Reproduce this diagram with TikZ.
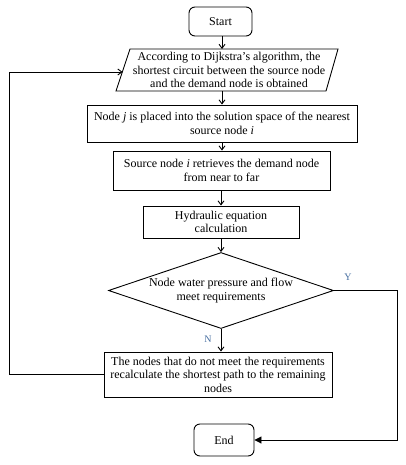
\documentclass[tikz,border=0pt]{standalone}
\usepackage{fontspec}
\setmainfont{Liberation Serif}
\usetikzlibrary{arrows.meta,shapes.geometric}
\definecolor{lab}{RGB}{70,110,160}
\begin{document}
\begin{tikzpicture}[x=1pt,y=-1pt,
  txt/.style={font=\fontsize{12}{13.5}\selectfont,align=center},
  box/.style={txt,draw,line width=0.9pt,inner sep=0pt},
  term/.style={box,rounded corners=6pt},
  arr/.style={line width=0.9pt,-{Straight Barb[length=4pt,width=6pt]}},
  arrf/.style={line width=0.9pt,-{Triangle[length=7pt,width=7pt]}},
  yn/.style={font=\fontsize{10}{11}\selectfont,text=lab}
]
\useasboundingbox (0,0) rectangle (406,465);
% Start
\node[term,minimum width=63,minimum height=29] (start) at (220.5,21.5) {Start};
% parallelogram
\coordinate (pbl) at (116,91);
\coordinate (pbr) at (326,91);
\coordinate (ptr) at (338,49);
\coordinate (ptl) at (130,49);
\draw[line width=0.9pt] (pbl) -- (pbr) -- (ptr) -- (ptl) -- cycle;
\node[txt] (para) at (229,70) {According to Dijkstra's algorithm, the\\shortest circuit between the source node\\and the demand node is obtained};
\coordinate (ptop) at (222,49);
\coordinate (pbot) at (222,91);
\coordinate (pleft) at (122.5,72);
% boxes
\node[box,minimum width=270,minimum height=37] (b2) at (222,123.5) {Node \textit{j} is placed into the solution space of the nearest\\source node \textit{i}};
\node[box,minimum width=217,minimum height=39] (b3) at (221.5,170.5) {Source node \textit{i} retrieves the demand node\\from near to far};
\node[box,minimum width=156,minimum height=32] (b4) at (221,222) {Hydraulic equation\\calculation};
\node[txt,draw,line width=0.9pt,shape=diamond,inner sep=0pt,aspect=3,minimum width=225,minimum height=76] (dec) at (221,290.5) {Node water pressure and flow\\meet requirements};
\node[box,minimum width=228,minimum height=45] (b5) at (218,374.5) {The nodes that do not meet the requirements\\recalculate the shortest path to the remaining\\nodes};
\node[term,minimum width=60,minimum height=32] (end) at (224,440) {End};
% connectors
\draw[arr] (start.south -| ptop) -- (ptop);
\draw[arr] (pbot) -- (pbot |- b2.north);
\draw[arr] (b2.south -| pbot) -- (b3.north -| pbot);
\draw[arr] (b3.south -| b4.north) -- (b4.north);
\draw[arr] (b4.south) -- (dec.north -| b4.south);
\draw[arr] (dec.south) -- (dec.south |- b5.north);
\draw[arr] (b5.west) -- (9,374.5) -- (9,72) -- (pleft);
\draw[arrf] (dec.east) -- (397,290.5) -- (397,440) -- (end.east);
\node[yn] (ylab) at (348,277) {Y};
\node[yn] (nlab) at (208,339) {N};
\end{tikzpicture}
\end{document}
